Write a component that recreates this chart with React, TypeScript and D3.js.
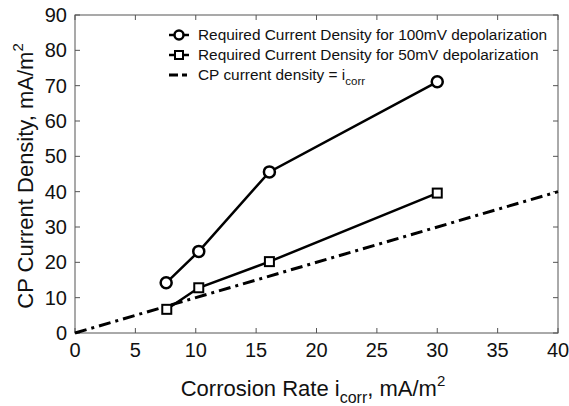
import React from "react";
import * as d3 from "d3";

const xTicks = [0, 5, 10, 15, 20, 25, 30, 35, 40];
const yTicks = [0, 10, 20, 30, 40, 50, 60, 70, 80, 90];
const icorr100 = [7.55, 10.25, 16.1, 30];
const cd100 = [14.2, 23.1, 45.6, 71.1];
const icorr50 = [7.6, 10.25, 16.1, 30];
const cd50 = [6.7, 12.8, 20.2, 39.6];
const refX = [0, 40];
const refY = [0, 40];
const legendLabels = [
  "Required Current Density for 100mV depolarization",
  "Required Current Density for 50mV depolarization",
  "CP current density = i",
];

export default function App() {
  const W = 569, H = 406;
  const L = 75, R = 558, T = 15, B = 333;
  const x = d3.scaleLinear().domain([0, 40]).range([L, R]);
  const y = d3.scaleLinear().domain([0, 90]).range([B, T]);
  const line = d3.line<[number, number]>().x(d => x(d[0])).y(d => y(d[1]));
  const p100 = icorr100.map((v, i) => [v, cd100[i]] as [number, number]);
  const p50 = icorr50.map((v, i) => [v, cd50[i]] as [number, number]);
  const pref = refX.map((v, i) => [v, refY[i]] as [number, number]);
  const font = "'Liberation Sans', Arial, sans-serif";
  const axisColor = "#555";
  const tickLen = 5;
  return (
    <svg width={W} height={H} style={{ position: "absolute", left: 0, top: 0, background: "#fff" }} fontFamily={font}>
      <rect x={0} y={0} width={W} height={H} fill="#fff" />
      <rect x={L} y={T} width={R - L} height={B - T} fill="none" stroke={axisColor} strokeWidth={1} />
      {xTicks.map(t => (
        <g key={"x" + t}>
          <line x1={x(t)} x2={x(t)} y1={B} y2={B - tickLen} stroke={axisColor} />
          <line x1={x(t)} x2={x(t)} y1={T} y2={T + tickLen} stroke={axisColor} />
          <text x={x(t)} y={B + 24} textAnchor="middle" fontSize={20} fill="#111">{t}</text>
        </g>
      ))}
      {yTicks.map(t => (
        <g key={"y" + t}>
          <line x1={L} x2={L + tickLen} y1={y(t)} y2={y(t)} stroke={axisColor} />
          <line x1={R} x2={R - tickLen} y1={y(t)} y2={y(t)} stroke={axisColor} />
          <text x={L - 8} y={y(t) + 7} textAnchor="end" fontSize={20} fill="#111">{t}</text>
        </g>
      ))}
      <text x={313} y={396} textAnchor="middle" fontSize={22} fill="#111">
        Corrosion Rate i<tspan fontSize={16} dy={7}>corr</tspan><tspan dy={-7}>, mA/m</tspan><tspan fontSize={15} dy={-10}>2</tspan>
      </text>
      <text transform={`translate(33,176) rotate(-90)`} textAnchor="middle" fontSize={22} fill="#111">
        CP Current Density, mA/m<tspan fontSize={15} dy={-10}>2</tspan>
      </text>
      <path d={line(pref) || ""} fill="none" stroke="#000" strokeWidth={3} strokeDasharray="12,5,3,5" />
      <path d={line(p100) || ""} fill="none" stroke="#000" strokeWidth={2.5} />
      <path d={line(p50) || ""} fill="none" stroke="#000" strokeWidth={2.5} />
      {p100.map((d, i) => (
        <circle key={"c" + i} cx={x(d[0])} cy={y(d[1])} r={5.5} fill="#fff" stroke="#000" strokeWidth={2.5} />
      ))}
      {p50.map((d, i) => (
        <rect key={"s" + i} x={x(d[0]) - 4.5} y={y(d[1]) - 4.5} width={9} height={9} fill="#fff" stroke="#000" strokeWidth={2} />
      ))}
      <g>
        <line x1={169} x2={189} y1={35} y2={35} stroke="#000" strokeWidth={2.5} />
        <circle cx={179} cy={35} r={4.5} fill="#fff" stroke="#000" strokeWidth={2.5} />
        <text x={198} y={40} fontSize={15.4} fill="#111">{legendLabels[0]}</text>
        <line x1={169} x2={189} y1={55} y2={55} stroke="#000" strokeWidth={2.5} />
        <rect x={175} y={51} width={8} height={8} fill="#fff" stroke="#000" strokeWidth={2} />
        <text x={198} y={60} fontSize={15.4} fill="#111">{legendLabels[1]}</text>
        <line x1={169} x2={189} y1={75} y2={75} stroke="#000" strokeWidth={3} strokeDasharray="9,4,5,4" />
        <text x={198} y={80} fontSize={15.4} fill="#111">
          {legendLabels[2]}<tspan fontSize={11.5} dy={5}>corr</tspan>
        </text>
      </g>
    </svg>
  );
}
